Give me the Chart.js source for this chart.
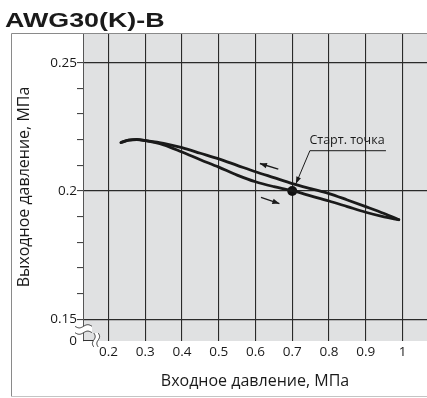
<!DOCTYPE html>
<html><head><meta charset="utf-8">
<script src="https://cdn.jsdelivr.net/npm/chart.js@4.4.1/dist/chart.umd.min.js"></script>
<style>html,body{margin:0;padding:0;background:#fff;overflow:hidden;}canvas{display:block;}</style>
</head><body>
<canvas id="c" width="427" height="398" style="width:427px;height:398px"></canvas>
<script>
// ---- texts ----
const chartTitle = 'AWG30(K)-B';
const xAxisTitle = 'Входное давление, МПа';
const yAxisTitle = 'Выходное давление, МПа';
const startLabel = 'Старт. точка';

// ---- ticks ----
const xTicks = [0.2, 0.3, 0.4, 0.5, 0.6, 0.7, 0.8, 0.9, 1.0];
const yTicks = [0.15, 0.16, 0.17, 0.18, 0.19, 0.2, 0.21, 0.22, 0.23, 0.24, 0.25];
const yLabelledTicks = [0.15, 0.2, 0.25];
const yZeroTick = 0.1415;
const yZeroLabel = '0';
const xRange = [0.1306, 1.0667];
const yRange = [0.1415, 0.2616];

// ---- data ----
const inletRising  = [0.234, 0.255, 0.277, 0.30, 0.35, 0.40, 0.45, 0.50, 0.55, 0.60, 0.65, 0.70, 0.75, 0.80, 0.85, 0.90, 0.95, 0.99];
const outletRising = [0.2189, 0.2198, 0.2200, 0.2196, 0.2180, 0.2152, 0.2122, 0.2093, 0.2062, 0.2036, 0.2017, 0.2001, 0.1981, 0.1961, 0.1939, 0.1917, 0.1899, 0.1888];
const inletFalling  = [0.234, 0.255, 0.277, 0.30, 0.35, 0.40, 0.45, 0.50, 0.55, 0.60, 0.65, 0.70, 0.75, 0.80, 0.85, 0.90, 0.95, 0.99];
const outletFalling = [0.2189, 0.2198, 0.2201, 0.2197, 0.2186, 0.2169, 0.2147, 0.2125, 0.2100, 0.2075, 0.2052, 0.2029, 0.2009, 0.1990, 0.1965, 0.1939, 0.1912, 0.1888];
const startInlet = [0.7];
const startOutlet = [0.2];

// ---- annotation anchors (in data units) ----
const labelAt = {x: 0.849, y: 0.2196};
const underline = {x1: 0.748, x2: 0.955, y: 0.2157};
const leaderTip = {x: 0.710, y: 0.2028};
const arrowFalling = {from: {x: 0.662, y: 0.2085}, to: {x: 0.612, y: 0.2107}};
const arrowRising  = {from: {x: 0.615, y: 0.1975}, to: {x: 0.665, y: 0.1951}};

const FONT = '"Open Sans", "Noto Sans", sans-serif';
const near = (a, b) => Math.abs(a - b) < 1e-6;
const toXY = (xs, ys) => xs.map((v, i) => ({x: v, y: ys[i]}));
const noPad = s => { s.paddingLeft = 0; s.paddingRight = 0; s.paddingTop = 0; s.paddingBottom = 0; };

function arrowHead(ctx, x1, y1, x2, y2, len, wid) {
  const a = Math.atan2(y2 - y1, x2 - x1);
  ctx.beginPath();
  ctx.moveTo(x2, y2);
  ctx.lineTo(x2 - len * Math.cos(a) + wid * Math.sin(a), y2 - len * Math.sin(a) - wid * Math.cos(a));
  ctx.lineTo(x2 - len * Math.cos(a) - wid * Math.sin(a), y2 - len * Math.sin(a) + wid * Math.cos(a));
  ctx.closePath();
  ctx.fill();
}

const bgPlugin = {
  id: 'bg',
  beforeDraw(chart) {
    const {ctx, chartArea: a} = chart;
    ctx.save();
    ctx.fillStyle = '#e0e1e2';
    ctx.fillRect(a.left, a.top, a.right - a.left, a.bottom - a.top);
    ctx.restore();
  }
};

const decoPlugin = {
  id: 'deco',
  afterDatasetsDraw(chart) {
    const {ctx, scales: {x, y}} = chart;
    ctx.save();
    ctx.font = '12.5px ' + FONT;
    ctx.textAlign = 'center';
    ctx.textBaseline = 'middle';
    ctx.fillStyle = '#1a1a1a';
    ctx.fillText(startLabel, x.getPixelForValue(labelAt.x), y.getPixelForValue(labelAt.y));
    ctx.lineWidth = 1;
    ctx.strokeStyle = '#1a1a1a';
    const ux1 = x.getPixelForValue(underline.x1), ux2 = x.getPixelForValue(underline.x2), uy = y.getPixelForValue(underline.y);
    const tx = x.getPixelForValue(leaderTip.x), ty = y.getPixelForValue(leaderTip.y);
    ctx.beginPath();
    ctx.moveTo(ux2, uy); ctx.lineTo(ux1, uy); ctx.lineTo(tx, ty);
    ctx.stroke();
    arrowHead(ctx, ux1, uy, tx, ty, 7, 2.5);
    ctx.lineWidth = 1.4;
    [arrowFalling, arrowRising].forEach(ar => {
      const x1 = x.getPixelForValue(ar.from.x), y1 = y.getPixelForValue(ar.from.y);
      const x2 = x.getPixelForValue(ar.to.x), y2 = y.getPixelForValue(ar.to.y);
      ctx.beginPath(); ctx.moveTo(x1, y1); ctx.lineTo(x2, y2); ctx.stroke();
      arrowHead(ctx, x1, y1, x2, y2, 7, 2.8);
    });
    ctx.restore();
  },
  afterDraw(chart) {
    const {ctx, chartArea: a} = chart;
    ctx.save();
    ctx.strokeStyle = '#8a8a8a';
    ctx.lineWidth = 1;
    ctx.beginPath();
    ctx.moveTo(427, 33.5); ctx.lineTo(11.5, 33.5); ctx.lineTo(11.5, 396.5);
    ctx.stroke();
    ctx.strokeStyle = '#c4c4c4';
    ctx.beginPath(); ctx.moveTo(11.5, 396.5); ctx.lineTo(427, 396.5); ctx.stroke();
    ctx.strokeStyle = '#333';
    ctx.beginPath(); ctx.moveTo(a.left, a.bottom - 0.5); ctx.lineTo(a.left + 10, a.bottom - 0.5); ctx.stroke();
    const yb = a.bottom - 11.5;
    const wave = (x0, x1, yc, off) => {
      const pts = [];
      for (let xx = x0; xx <= x1; xx += 0.5) pts.push([xx, yc + off + 1.6 * Math.sin((xx - x0) / (x1 - x0) * 2 * Math.PI)]);
      return pts;
    };
    const w1 = wave(75, 92, yb, -3.2), w2 = wave(75, 92, yb, 3.2);
    ctx.fillStyle = '#fff';
    ctx.beginPath();
    w1.forEach((p, i) => i ? ctx.lineTo(p[0], p[1]) : ctx.moveTo(p[0], p[1]));
    w2.slice().reverse().forEach(p => ctx.lineTo(p[0], p[1]));
    ctx.closePath(); ctx.fill();
    ctx.strokeStyle = '#333'; ctx.lineWidth = 1;
    [w1, w2].forEach(w => { ctx.beginPath(); w.forEach((p, i) => i ? ctx.lineTo(p[0], p[1]) : ctx.moveTo(p[0], p[1])); ctx.stroke(); });
    const xb = a.left + 13;
    const vwave = (y0, y1, xc, off) => {
      const pts = [];
      for (let yy = y0; yy <= y1; yy += 0.5) pts.push([xc + off + 1.4 * Math.sin((yy - y0) / (y1 - y0) * 2 * Math.PI), yy]);
      return pts;
    };
    const v1 = vwave(a.bottom - 8, a.bottom + 6, xb, -2.2), v2 = vwave(a.bottom - 8, a.bottom + 6, xb, 2.2);
    ctx.fillStyle = '#fff';
    ctx.beginPath();
    v1.forEach((p, i) => i ? ctx.lineTo(p[0], p[1]) : ctx.moveTo(p[0], p[1]));
    v2.slice().reverse().forEach(p => ctx.lineTo(p[0], p[1]));
    ctx.closePath(); ctx.fill();
    [v1, v2].forEach(w => { ctx.beginPath(); w.forEach((p, i) => i ? ctx.lineTo(p[0], p[1]) : ctx.moveTo(p[0], p[1])); ctx.stroke(); });
    ctx.fillStyle = '#1a1a1a';
    ctx.font = 'bold 20.5px "Liberation Sans", Arial, sans-serif';
    ctx.textAlign = 'left';
    ctx.textBaseline = 'alphabetic';
    ctx.translate(5, 27);
    ctx.scale(1.31, 1);
    ctx.fillText(chartTitle, 0, 0);
    ctx.restore();
  }
};

new Chart(document.getElementById('c'), {
  type: 'scatter',
  data: {
    datasets: [
      {data: toXY(inletFalling, outletFalling), showLine: true, pointRadius: 0, borderColor: '#1a1a1a', borderWidth: 2.8, cubicInterpolationMode: 'monotone', borderCapStyle: 'round', borderJoinStyle: 'round'},
      {data: toXY(inletRising, outletRising), showLine: true, pointRadius: 0, borderColor: '#1a1a1a', borderWidth: 2.8, cubicInterpolationMode: 'monotone', borderCapStyle: 'round', borderJoinStyle: 'round'},
      {data: toXY(startInlet, startOutlet), showLine: false, pointRadius: 5, pointBackgroundColor: '#111', pointBorderColor: '#111', pointBorderWidth: 0}
    ]
  },
  options: {
    responsive: false,
    devicePixelRatio: 1,
    animation: false,
    layout: {autoPadding: false, padding: {top: 33, left: 0, right: 0, bottom: 0}},
    plugins: {legend: {display: false}, tooltip: {enabled: false}, title: {display: false}},
    scales: {
      x: {
        type: 'linear', min: xRange[0], max: xRange[1],
        afterBuildTicks: s => { s.ticks = xTicks.map(v => ({value: v})); },
        afterFit: s => { s.height = 57; noPad(s); },
        ticks: {autoSkip: false, maxRotation: 0, padding: 3, color: '#1a1a1a', font: {family: FONT, size: 13.5}, callback: v => String(v)},
        grid: {color: '#2a2a2a', lineWidth: 1.1, drawTicks: false},
        border: {display: false},
        title: {display: true, text: xAxisTitle, color: '#1a1a1a', font: {family: FONT, size: 16}, padding: {top: 0, bottom: 7}}
      },
      y: {
        type: 'linear', min: yRange[0], max: yRange[1],
        afterBuildTicks: s => { s.ticks = [yZeroTick].concat(yTicks).map(v => ({value: v})); },
        afterFit: s => { s.width = 83; noPad(s); },
        ticks: {
          autoSkip: false, padding: 0, color: '#1a1a1a', font: {family: FONT, size: 13.5},
          callback: v => near(v, yZeroTick) ? yZeroLabel : (yLabelledTicks.some(t => near(t, v)) ? String(v) : '')
        },
        grid: {
          color: c => yLabelledTicks.some(t => near(t, c.tick.value)) ? '#2a2a2a' : 'rgba(0,0,0,0)',
          lineWidth: 1.2,
          tickLength: 6,
          tickColor: c => near(c.tick.value, yZeroTick) ? 'rgba(0,0,0,0)' : '#333',
          tickWidth: 1
        },
        border: {display: true, color: '#555', width: 1},
        title: {display: true, text: yAxisTitle, color: '#1a1a1a', font: {family: FONT, size: 16}, padding: {top: 15, bottom: 0}}
      }
    }
  },
  plugins: [bgPlugin, decoPlugin]
});
</script>
</body></html>
